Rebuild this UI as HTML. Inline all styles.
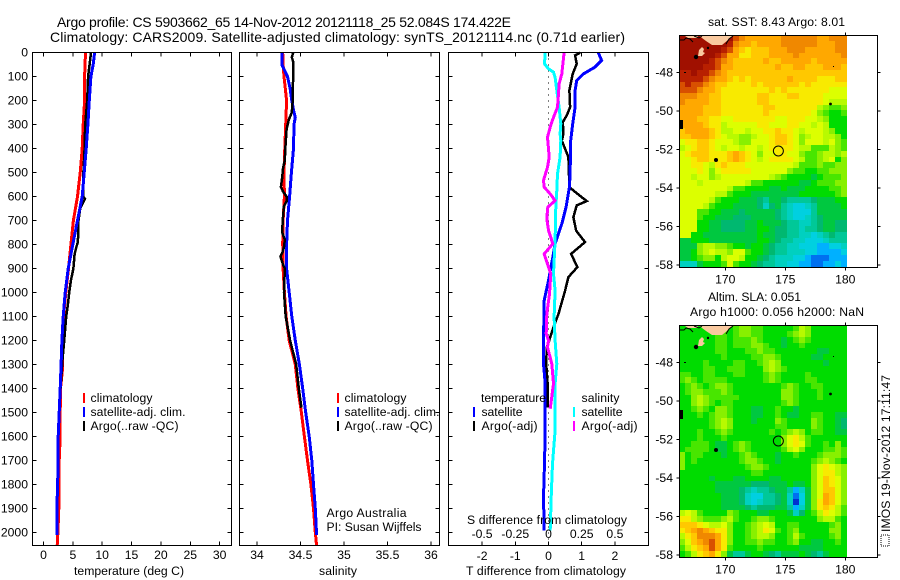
<!DOCTYPE html>
<html>
<head>
<meta charset="utf-8">
<title>Argo profile</title>
<style>
html,body{margin:0;padding:0;background:#fff;width:900px;height:580px;overflow:hidden}
svg{display:block}
text{font-family:"Liberation Sans",sans-serif;font-size:12.2px;fill:#000}
.crisp{shape-rendering:crispEdges}
</style>
</head>
<body>
<svg id="fig" xmlns="http://www.w3.org/2000/svg" width="900" height="580" viewBox="0 0 900 580">
<rect x="0" y="0" width="900" height="580" fill="#fff"/>
<text x="57" y="27" style="font-size:14px" textLength="454" lengthAdjust="spacing">Argo profile: CS 5903662_65 14-Nov-2012 20121118_25 52.084S 174.422E</text>
<text x="50" y="42" style="font-size:14px" textLength="575" lengthAdjust="spacing">Climatology: CARS2009. Satellite-adjusted climatology: synTS_20121114.nc (0.71d earlier)</text>
<text x="708" y="26" textLength="137" lengthAdjust="spacing">sat. SST: 8.43 Argo: 8.01</text>
<text x="708" y="301" textLength="93" lengthAdjust="spacing">Altim. SLA: 0.051</text>
<text x="690" y="316" textLength="174" lengthAdjust="spacing">Argo h1000: 0.056 h2000: NaN</text>
<text x="326.5" y="517" textLength="80" lengthAdjust="spacing">Argo Australia</text>
<text x="326.5" y="531" textLength="95" lengthAdjust="spacing">PI: Susan Wijffels</text>
<text transform="translate(890,532) rotate(-90)" textLength="157" lengthAdjust="spacing">IMOS 19-Nov-2012 17:11:47</text>
<rect x="881" y="535" width="8" height="11" fill="none" stroke="#000" stroke-width="1" stroke-dasharray="1 1"/>
</svg>
<script>
// ---- depth axis ----
var depthTicks = [0,100,200,300,400,500,600,700,800,900,1000,1100,1200,1300,1400,1500,1600,1700,1800,1900,2000];

// ---- temperature panel ----
var tempTicks = [0,5,10,15,20,25,30];
var climTempDepth = [0,100,200,300,400,500,600,700,800,900,1000,1100,1200,1320,1400,1500,1600,1700,1800,1900,2000,2055];
var climTemp = [7.15,7.0,7.0,6.76,6.6,6.25,5.8,5.1,4.67,4.26,3.8,3.4,3.2,3.24,2.9,2.85,2.85,2.67,2.67,2.6,2.45,2.33];
var satTempDepth = [0,50,100,200,300,400,500,600,700,800,900,1000,1100,1200,1300,1400,1500,1600,1700,1800,1900,2010];
var satTemp = [8.7,8.47,8.07,7.8,7.56,7.27,6.93,6.6,5.8,5.0,4.2,3.7,3.36,3.13,3.0,2.85,2.67,2.5,2.5,2.4,2.28,2.28];
var argoTempDepth = [0,50,100,200,300,400,500,600,610,650,700,790,810,840,900,950,1000,1050,1100,1200,1280,1400,1480];
var argoTemp = [8.1,7.85,7.6,7.44,7.1,7.0,6.8,6.8,7.05,6.25,5.97,5.86,5.6,5.3,5.1,4.67,4.38,4.15,3.87,3.53,3.24,2.9,2.7];

// ---- salinity panel ----
var salTicks = [34,34.5,35,35.5,36];
var climSalDepth = [0,50,100,150,200,300,400,500,600,700,800,850,900,1000,1100,1200,1300,1400,1500,1600,1700,1800,1900,2000,2055];
var climSal = [34.295,34.30,34.31,34.325,34.34,34.33,34.32,34.31,34.315,34.30,34.295,34.30,34.30,34.315,34.335,34.37,34.44,34.47,34.51,34.545,34.58,34.62,34.65,34.67,34.685];
var satSalDepth = [0,50,70,100,150,200,250,270,300,400,500,600,700,800,900,1000,1100,1200,1300,1400,1500,1600,1700,1800,1900,2010];
var satSal = [34.285,34.285,34.31,34.35,34.38,34.40,34.425,34.44,34.425,34.42,34.395,34.375,34.35,34.34,34.34,34.37,34.40,34.44,34.487,34.525,34.56,34.60,34.63,34.65,34.67,34.685];
var argoSalDepth = [0,20,40,100,200,250,280,320,400,450,480,520,560,580,600,620,640,700,750,780,810,830,850,880,900,1000,1100,1200,1300,1400,1480];
var argoSal = [34.417,34.40,34.417,34.415,34.41,34.40,34.365,34.34,34.325,34.32,34.30,34.29,34.275,34.30,34.34,34.34,34.31,34.295,34.29,34.32,34.31,34.295,34.27,34.295,34.32,34.31,34.33,34.38,34.45,34.48,34.51];

// ---- difference panel ----
var tDiffTicks = [-2,-1,0,1,2];
var sDiffTicks = [-0.5,-0.25,0,0.25,0.5];
var tDiffLabels = ['-2','-1','0','1','2'];
var sDiffLabels = ['-0.5','-0.25','0','0.25','0.5'];
var satDiffTDepth = [1,33,61,89,117,158,228,297,367,506,561,644,714,797,853,950,1033,1200,1297,1380,1575,1713,1852,1991];
var satDiffT = [1.5,1.6,1.4,1.05,0.85,0.8,0.8,0.73,0.67,0.65,0.63,0.53,0.4,0.2,0.13,0,-0.13,-0.15,-0.15,-0.1,-0.1,-0.12,-0.15,-0.13];
var argoDiffTDepth = [1,12,47,89,158,228,262,290,339,367,436,561,575,619,637,686,742,790,839,894,936,992,1089,1144,1200,1228,1297,1373,1480];
var argoDiffT = [0.95,0.8,0.85,0.73,0.63,0.65,0.55,0.43,0.45,0.4,0.6,0.63,0.75,1.15,0.85,0.75,0.83,1.1,0.68,0.87,0.6,0.5,0.3,0.15,0.02,-0.05,-0.07,-0.03,-0.03];
var satDiffSDepth = [1,47,68,82,103,158,228,297,339,367,436,506,575,644,783,922,992,1103,1200,1297,1380,1575,1713,1852,1991];
var satDiffS = [-0.025,-0.03,0,0.0375,0.05,0.0625,0.08,0.0925,0.0875,0.0925,0.0875,0.0675,0.0625,0.055,0.05,0.0375,0.05,0.0425,0.05,0.0625,0.05,0.05,0.03,0.02,0.0125];
var argoDiffSDepth = [1,89,131,172,228,270,311,353,436,478,533,561,589,617,644,692,741,797,839,922,1006,1089,1172,1200,1228,1297,1380,1484];
var argoDiffS = [0.1175,0.1,0.08,0.075,0.0675,0.0375,0.0125,-0.0075,0.005,-0.0075,-0.0375,-0.0325,0.0125,0.05,-0.005,-0.0125,0,0.0325,-0.0325,0.0175,0.0075,-0.0125,-0.0175,0,-0.0075,0.025,0.0375,0.0125];
argoDiffS.push(0.0075);

// ---- map axes ----
var lonTicks = [170,175,180];
var latTicks = [-48,-50,-52,-54,-56,-58];
var argoLon = 174.422;
var argoLat = -52.084;

// ---- map colour levels (0 = coldest/lowest, 19 = warmest/highest) ----
var levelColors = ['#0030d0','#0070f0','#00b0ff','#00d0e0','#00d0c0','#00c898','#00b870','#00c840','#00dc00','#48e600','#88f000','#b8fa00','#dcff00','#f8ea00','#ffc800','#ffa800','#f08800','#d85000','#b82000','#a01000'];
var sstGrid = [
[19,19,19,19,19,19,19,19,19,17,16,15,15,15,15,15,15,16,16,16,16,16,16,15,15,16,16,16],
[19,19,19,19,19,19,19,19,18,16,15,15,14,15,15,15,15,16,16,16,16,16,16,15,15,15,16,16],
[19,19,19,19,19,19,19,18,17,15,14,13,14,14,14,15,15,15,16,16,16,15,15,15,15,15,16,16],
[19,19,19,19,19,19,18,17,15,15,13,13,14,14,14,15,15,15,15,16,15,15,15,15,15,15,15,16],
[19,19,19,19,19,18,17,16,15,14,14,14,14,14,15,14,14,15,15,15,15,15,14,15,15,15,15,15],
[19,19,19,19,18,18,17,15,15,14,14,14,14,14,14,14,15,14,14,15,15,14,14,14,15,15,15,14],
[18,18,19,18,18,17,16,15,14,14,14,14,14,14,14,14,14,14,14,14,14,14,14,14,14,14,14,14],
[18,18,18,18,17,16,15,15,14,13,14,13,14,14,14,14,14,14,15,14,14,14,14,13,13,13,14,14],
[17,18,17,17,16,15,14,14,13,13,13,13,14,13,14,14,14,14,14,14,13,14,13,13,13,13,13,13],
[17,17,17,16,15,15,14,13,13,13,13,13,13,13,13,14,13,14,13,13,13,13,13,13,13,12,12,12],
[16,16,16,15,15,14,14,13,13,13,13,13,13,14,14,13,13,13,14,14,13,13,13,13,12,12,12,12],
[16,15,15,15,15,14,14,13,13,13,13,13,13,14,14,13,13,13,13,13,13,13,13,13,12,11,11,11],
[15,15,15,15,14,14,14,13,13,13,13,13,13,13,14,14,13,13,13,13,13,13,13,11,10,9,9,10],
[15,15,15,15,14,14,14,13,13,13,13,13,13,13,14,13,13,13,13,13,13,13,12,10,9,8,8,9],
[15,15,15,14,14,13,13,12,12,13,13,13,13,13,13,13,12,12,13,13,13,12,12,11,10,8,8,8],
[15,15,15,15,14,13,13,11,12,12,12,12,12,13,13,12,12,12,13,13,12,12,11,12,11,8,8,8],
[14,15,15,15,15,14,13,11,11,12,12,11,12,12,13,13,14,13,13,12,11,12,12,12,11,10,8,8],
[14,14,15,15,15,14,13,12,11,11,10,10,11,12,12,13,14,14,13,12,10,11,12,12,11,11,10,8],
[12,13,13,14,14,13,12,12,12,11,10,10,12,12,12,13,14,14,13,12,10,12,12,12,11,12,10,9],
[11,12,13,14,14,13,12,11,12,12,11,12,12,11,12,13,13,13,13,12,11,11,9,9,9,11,10,9],
[12,13,14,14,14,13,13,13,14,15,14,13,12,10,12,12,13,13,12,12,10,9,9,10,11,11,10,11],
[12,12,13,14,14,13,13,13,14,15,14,13,12,11,12,13,13,13,13,12,11,9,9,10,11,12,8,10],
[12,12,13,13,12,11,13,14,13,13,13,12,12,12,12,12,12,12,12,11,9,9,9,10,9,9,10,10],
[12,12,12,13,12,10,12,13,13,13,13,13,12,12,12,12,12,12,10,9,9,8,8,9,9,10,10,10],
[12,12,11,12,12,10,11,12,12,12,12,12,12,12,12,11,10,9,8,8,8,8,7,8,9,9,9,10],
[12,12,12,11,12,12,12,12,12,12,12,11,9,9,8,8,8,8,8,8,7,7,8,9,9,9,10,10],
[12,12,12,12,12,12,12,12,11,9,9,8,8,8,8,7,7,8,7,7,7,8,8,8,8,9,9,10],
[12,12,12,12,12,12,11,11,9,8,8,8,7,7,7,7,7,7,7,7,8,8,8,8,8,8,9,10],
[12,12,12,12,12,11,9,8,8,8,7,7,7,6,5,7,7,6,5,5,5,5,6,7,7,7,8,8],
[12,12,12,12,11,9,8,8,8,7,7,7,7,6,4,6,7,5,4,3,3,4,5,7,7,7,7,8],
[12,12,12,9,9,8,8,7,7,7,6,7,7,7,7,7,6,5,4,3,3,3,5,7,7,7,7,7],
[12,12,12,9,8,8,7,7,7,6,6,6,7,7,7,7,6,5,4,3,3,4,5,6,7,7,7,7],
[12,12,12,8,8,7,7,6,6,6,6,7,7,8,7,7,7,6,5,5,4,4,5,6,7,7,6,6],
[12,12,12,8,8,7,7,6,6,6,6,7,7,8,8,7,6,6,5,5,4,5,5,6,7,7,6,6],
[12,12,8,8,7,7,7,7,7,7,7,7,7,8,7,7,6,6,5,5,4,4,3,4,5,6,5,5],
[7,7,8,8,8,7,7,7,7,7,7,7,7,8,8,7,6,5,5,4,4,3,3,3,4,5,5,5],
[7,7,7,10,11,11,10,10,9,8,8,7,8,8,7,6,5,5,4,4,3,3,3,2,2,3,3,4],
[7,7,8,10,11,12,11,11,10,12,12,9,8,8,7,6,5,5,4,4,4,3,3,2,2,2,2,3],
[7,7,8,9,10,10,8,11,12,12,11,8,8,7,6,5,4,4,4,3,3,2,1,1,1,2,2,2],
[4,4,4,7,8,8,8,9,12,9,8,8,7,6,5,5,4,4,3,3,2,2,1,1,2,2,3,2]
];
var slaGrid = [
[8,8,8,8,8,9,9,8,8,9,10,10,9,9,8,8,8,8,8,9,11,10,8,8,8,8,8,8],
[8,8,8,8,8,8,9,9,8,9,10,10,9,9,8,8,8,8,9,10,11,10,8,8,8,8,8,8],
[8,8,8,8,8,8,9,9,8,9,9,9,10,9,8,8,8,7,8,9,10,9,8,8,8,8,8,8],
[8,8,8,8,8,8,9,9,8,9,9,9,10,10,9,8,8,7,8,8,9,8,8,8,8,8,8,8],
[8,8,8,8,8,8,9,9,8,8,8,9,9,10,9,9,8,8,8,8,8,8,8,7,7,8,8,8],
[8,8,8,8,8,8,8,9,8,8,8,8,9,9,10,10,9,8,8,8,8,8,7,7,8,8,8,8],
[8,8,8,8,9,8,8,8,8,9,9,8,8,9,10,11,10,8,8,8,8,8,8,8,7,8,8,8],
[8,8,8,8,9,9,8,8,9,9,9,8,8,8,10,11,10,9,8,8,8,8,8,8,8,8,8,8],
[9,9,8,8,9,9,8,8,8,9,9,8,8,8,9,10,9,8,8,8,8,9,8,8,8,8,8,8],
[9,10,9,8,9,9,9,9,8,8,8,8,8,8,9,10,9,8,8,8,8,9,9,8,8,8,8,8],
[8,9,10,9,8,9,10,10,9,8,8,8,8,8,8,8,8,9,10,9,8,8,9,9,8,8,8,8],
[8,9,10,10,9,9,9,10,9,8,8,8,8,8,8,8,8,10,10,9,8,8,8,9,8,8,8,8],
[8,8,10,11,10,9,9,9,9,9,8,8,8,8,8,8,8,10,10,9,8,8,8,9,8,8,8,8],
[8,8,10,11,10,9,8,9,9,8,8,8,8,8,8,8,8,9,10,9,8,8,8,8,8,8,8,8],
[8,8,9,10,9,8,10,10,9,8,8,8,7,7,8,8,9,8,8,7,8,8,8,8,8,8,8,8],
[8,8,8,9,8,9,10,10,9,8,8,8,7,7,8,8,9,8,7,7,8,8,9,9,8,8,7,7],
[8,8,8,8,8,9,10,11,10,8,8,8,7,8,8,8,10,9,8,8,8,8,10,9,8,8,7,6],
[8,8,8,8,8,9,10,11,10,8,8,8,8,8,8,8,9,9,8,8,8,8,10,9,8,8,7,6],
[8,8,8,9,8,8,9,10,9,8,8,8,8,8,8,9,8,9,10,11,10,8,9,9,8,8,7,7],
[8,8,8,9,8,8,8,9,8,8,8,8,8,8,8,8,8,10,12,13,11,9,8,8,8,8,8,8],
[8,8,9,9,9,8,7,7,8,9,10,9,8,8,8,8,8,10,12,13,12,9,8,8,9,8,10,8],
[8,9,9,9,9,8,7,7,8,9,10,9,8,8,8,8,8,9,11,12,10,8,8,8,9,9,10,9],
[10,8,9,9,8,8,8,7,8,8,9,10,9,8,8,8,7,8,8,9,8,8,8,9,10,10,10,9],
[10,8,9,8,8,8,8,8,8,8,9,10,10,9,8,8,7,8,8,8,8,8,9,10,11,10,9,8],
[10,8,8,8,8,8,8,8,8,8,8,9,10,10,9,8,8,8,8,8,8,8,10,12,13,12,11,10],
[8,8,8,8,8,8,8,8,8,8,8,8,9,9,8,8,8,8,8,8,8,8,10,12,13,13,11,10],
[8,8,8,8,8,7,8,8,8,7,7,8,8,8,8,7,7,8,8,8,8,8,10,12,14,13,12,10],
[8,8,8,8,8,8,7,7,7,7,7,7,6,6,6,7,7,7,8,7,7,8,10,12,14,13,12,10],
[8,8,8,8,8,8,7,7,7,7,6,5,4,5,5,6,7,7,5,2,4,7,10,12,14,14,12,10],
[8,8,8,8,8,8,8,7,7,7,6,4,3,3,5,5,6,7,4,1,3,7,10,12,15,14,12,10],
[8,8,8,8,8,8,8,7,7,7,6,4,3,4,5,5,6,7,4,0,3,7,10,13,15,14,12,10],
[8,8,8,8,8,8,8,7,7,7,7,6,5,6,6,6,7,7,5,2,4,7,10,13,14,13,11,9],
[11,12,11,9,8,8,8,8,10,9,8,8,8,7,7,8,8,8,7,4,6,8,9,11,13,12,11,9],
[13,13,11,10,9,9,9,10,11,9,8,8,9,10,10,9,8,8,8,8,8,8,8,10,11,11,9,8],
[14,14,14,13,12,11,11,12,10,8,8,9,10,11,12,11,8,8,9,9,8,8,8,8,8,9,10,8],
[13,14,15,16,15,14,13,13,10,8,8,9,10,11,13,12,9,8,9,10,8,8,8,8,8,10,10,8],
[11,13,14,16,16,16,15,13,10,8,8,9,10,11,11,10,8,8,9,11,9,8,8,8,8,9,10,8],
[10,12,14,15,16,17,15,13,10,8,8,9,9,10,9,9,8,8,9,10,8,8,7,7,8,8,9,8],
[9,11,13,14,15,17,15,13,9,8,8,8,8,9,8,8,8,8,8,8,7,7,7,7,8,8,8,8],
[8,9,11,13,14,15,13,10,7,5,5,7,8,8,7,6,5,7,7,7,8,7,6,5,7,8,8,8]
];

// ---- scales ----
var svg = document.getElementById('fig');
var NS = 'http://www.w3.org/2000/svg';
var TOP = 52.5, BOT = 545.5;
function yDepth(d){ return 52.5 + d * 0.24; }
function xTemp(v){ return 43.5 + v * 5.87; }
function xSal(v){ return 257 + (v - 34) * 87; }
function xTDiff(v){ return 548.5 + v * 33.2; }
function xSDiff(v){ return 548.5 + v * 132.8; }
function xLon(lon){ return 725.3 + (lon - 170) * 12; }
function yLat1(lat){ return 72.3 + (-48 - lat) * 19.27; }
function yLat2(lat){ return 362.3 + (-48 - lat) * 19.27; }

function make(tag, attrs, parent){
  var el = document.createElementNS(NS, tag);
  for (var k in attrs) el.setAttribute(k, attrs[k]);
  (parent || svg).appendChild(el);
  return el;
}
function label(str, x, y, anchor, name, len){
  var t = make('text', {x:x, y:y, 'text-anchor':anchor || 'start'});
  t.textContent = str;
  if (len) { t.setAttribute('textLength', len); t.setAttribute('lengthAdjust', 'spacing'); }
  
  
  return t;
}
function tickLine(x1, y1, x2, y2){
  var l = make('line', {x1:x1, y1:y1, x2:x2, y2:y2, stroke:'#000', 'stroke-width':1, 'class':'crisp'});
  
  
}
function series(depths, vals, xf, color, name, width){
  var pts = depths.map(function(d, i){ return xf(vals[i]).toFixed(1) + ',' + yDepth(d).toFixed(1); }).join(' ');
  var p = make('polyline', {points:pts, fill:'none', stroke:color, 'stroke-width':width || 3, 'class':'crisp'});
  
  
}
function frame(x0, x1, name){
  var r = make('rect', {x:x0, y:TOP, width:x1 - x0, height:BOT - TOP, fill:'none', stroke:'#000', 'stroke-width':1, 'class':'crisp'});
  
  
}
function depthTickMarks(x0, x1, withLabels){
  depthTicks.forEach(function(d){
    var y = yDepth(d);
    tickLine(x0, y, x0 + 4, y);
    tickLine(x1 - 4, y, x1, y);
    if (withLabels) label(String(d), 28, y + 4, 'end', 'depth-tick-label');
  });
}
function xTickMarks(ticks, xf){
  ticks.forEach(function(v){
    var x = xf(v);
    tickLine(x, TOP, x, TOP + 4);
    tickLine(x, BOT - 4, x, BOT);
  });
}
function legendBar(x, y, color, name){
  var r = make('rect', {x:x - 1, y:y - 5, width:2, height:10, fill:color, 'class':'crisp'});
  
  
}

// ---- panel 1: temperature ----
series(climTempDepth, climTemp, xTemp, '#ff0000', 'temperature-climatology-line');
series(argoTempDepth, argoTemp, xTemp, '#000000', 'temperature-argo-line', 2.5);
series(satTempDepth, satTemp, xTemp, '#0000ff', 'temperature-satellite-line');
frame(32.5, 231.5, 'temperature-plot-frame');
depthTickMarks(32.5, 231.5, true);
xTickMarks(tempTicks, xTemp);
tempTicks.forEach(function(v){ label(String(v), xTemp(v), 559, 'middle', 'temperature-tick-label'); });
label('temperature (deg C)', 129, 575, 'middle', 'temperature-axis-title', 110);
legendBar(84, 398, '#ff0000', 'legend-climatology-swatch');
legendBar(84, 412, '#0000ff', 'legend-satellite-swatch');
legendBar(84, 426, '#000000', 'legend-argo-swatch');
label('climatology', 90.5, 402, 'start', 'legend-climatology', 62);
label('satellite-adj. clim.', 90.5, 416, 'start', 'legend-satellite', 95);
label('Argo(..raw -QC)', 90.5, 430, 'start', 'legend-argo', 88);

// ---- panel 2: salinity ----
series(climSalDepth, climSal, xSal, '#ff0000', 'salinity-climatology-line');
series(satSalDepth, satSal, xSal, '#0000ff', 'salinity-satellite-line');
series(argoSalDepth, argoSal, xSal, '#000000', 'salinity-argo-line', 2.5);
frame(239.5, 439.5, 'salinity-plot-frame');
depthTickMarks(239.5, 439.5, false);
xTickMarks(salTicks, xSal);
salTicks.forEach(function(v){ label(String(v), xSal(v), 559, 'middle', 'salinity-tick-label'); });
label('salinity', 338, 575, 'middle', 'salinity-axis-title', 38);
legendBar(338, 398, '#ff0000', 'legend-climatology-swatch');
legendBar(338, 412, '#0000ff', 'legend-satellite-swatch');
legendBar(338, 426, '#000000', 'legend-argo-swatch');
label('climatology', 344.5, 402, 'start', 'legend-climatology', 62);
label('satellite-adj. clim.', 344.5, 416, 'start', 'legend-satellite', 95);
label('Argo(..raw -QC)', 344.5, 430, 'start', 'legend-argo', 88);

// ---- panel 3: differences ----
var zeroLine = make('line', {x1:xTDiff(0), y1:TOP, x2:xTDiff(0), y2:BOT, stroke:'#000', 'stroke-width':1, 'stroke-dasharray':'1 5', 'class':'crisp'});


series(argoDiffTDepth, argoDiffT, xTDiff, '#000000', 'temperature-diff-argo-line', 2.5);
series(satDiffTDepth, satDiffT, xTDiff, '#0000ff', 'temperature-diff-satellite-line');
series(satDiffSDepth, satDiffS, xSDiff, '#00ffff', 'salinity-diff-satellite-line');
series(argoDiffSDepth, argoDiffS, xSDiff, '#ff00ff', 'salinity-diff-argo-line');
frame(448.5, 648.5, 'difference-plot-frame');
depthTickMarks(448.5, 648.5, false);
xTickMarks(tDiffTicks, xTDiff);
tDiffTicks.forEach(function(v, i){ label(tDiffLabels[i], xTDiff(v), 560, 'middle', 'temperature-diff-tick-label'); });
sDiffTicks.forEach(function(v, i){ label(sDiffLabels[i], xSDiff(v), 538, 'middle', 'salinity-diff-tick-label'); });
label('T difference from climatology', 546, 575, 'middle', 'temperature-diff-axis-title', 160);
label('S difference from climatology', 547, 524, 'middle', 'salinity-diff-axis-title', 160);
label('temperature', 481, 402, 'start', 'legend-temperature-heading', 65);
label('satellite', 481.5, 416, 'start', 'legend-temperature-satellite', 41);
label('Argo(-adj)', 481.5, 430, 'start', 'legend-temperature-argo', 56);
label('salinity', 581.5, 402, 'start', 'legend-salinity-heading', 38);
label('satellite', 581.5, 416, 'start', 'legend-salinity-satellite', 41);
label('Argo(-adj)', 581.5, 430, 'start', 'legend-salinity-argo', 56);
legendBar(474, 412, '#0000ff', 'legend-temperature-satellite-swatch');
legendBar(474, 426, '#000000', 'legend-temperature-argo-swatch');
legendBar(574, 412, '#00ffff', 'legend-salinity-satellite-swatch');
legendBar(574, 426, '#ff00ff', 'legend-salinity-argo-swatch');

// ---- maps ----
function drawMap(grid, yLat, prefix){
  var lon0 = 166.18, dLon = 0.5, lat0 = -46.08, dLat = 0.3;
  var group = make('g', {'class':'crisp'});
  
  
  grid.forEach(function(row, r){
    row.forEach(function(level, c){
      var x0 = Math.round(xLon(lon0 + c * dLon));
      var x1 = Math.round(xLon(lon0 + (c + 1) * dLon));
      var y0 = Math.round(yLat(lat0 - r * dLat));
      var y1 = Math.round(yLat(lat0 - (r + 1) * dLat));
      var cell = make('rect', {x:x0, y:y0, width:x1 - x0, height:y1 - y0, fill:levelColors[level]}, group);
      
      
    });
  });
  var dy = yLat(-48) - 72.3;
  var land = make('g', {transform:'translate(0,' + dy + ')'});
  
  
  make('polygon', {points:'700,36 733,36 728,40 722,45 712,45 706,41 702,38', fill:'#f9c99f'}, land);
  make('polygon', {points:'685,36 698,36 697,38 688,38', fill:'#f9c99f'}, land);
  make('polygon', {points:'699,50 702,47 704,49 703,52 705,53 702,56 698,56', fill:'#f9c99f'}, land);
  make('polyline', {points:'680,40 684,40 686,38 690,39 693,42', fill:'none', stroke:'#000', 'stroke-width':1}, land);
  make('polyline', {points:'694,36 699,38 702,36', fill:'none', stroke:'#000', 'stroke-width':1}, land);
  make('polyline', {points:'726,44 729,39 733,36', fill:'none', stroke:'#000', 'stroke-width':1}, land);
  make('circle', {cx:696, cy:57, r:2.2, fill:'#000'}, land);
  make('circle', {cx:708, cy:48, r:1.2, fill:'#000'}, land);
  make('rect', {x:680, y:120, width:3, height:9, fill:'#000'}, land);
  make('rect', {x:684, y:72, width:2, height:1, fill:'#000'}, land);
  make('circle', {cx:716, cy:160, r:2, fill:'#000'}, land);
  make('circle', {cx:830.5, cy:104, r:1.4, fill:'#000'}, land);
  make('rect', {x:833, y:66, width:1, height:1, fill:'#000'}, land);
  var mark = make('circle', {cx:xLon(argoLon), cy:yLat(argoLat), r:5, fill:'none', stroke:'#000', 'stroke-width':1});
  
  
  var top = yLat(-48) - 37, bot = top + 232, left = 679.5, right = 877.5;
  var box = make('rect', {x:left, y:Math.round(top) + 0.5, width:right - left, height:232, fill:'none', stroke:'#000', 'stroke-width':1, 'class':'crisp'});
  
  
  lonTicks.forEach(function(lon){
    var x = xLon(lon);
    tickLine(x, top - 3, x, top);
    tickLine(x, bot, x, bot + 3);
    label(String(lon), x, bot + 16, 'middle', prefix + '-lon-tick-label');
  });
  latTicks.forEach(function(lat){
    var y = yLat(lat);
    tickLine(left - 3, y, left, y);
    tickLine(right, y, right + 3, y);
    label(String(lat), 673, y + 4, 'end', prefix + '-lat-tick-label');
  });
}
drawMap(sstGrid, yLat1, 'sst');
drawMap(slaGrid, yLat2, 'sla');
</script>
</body>
</html>
